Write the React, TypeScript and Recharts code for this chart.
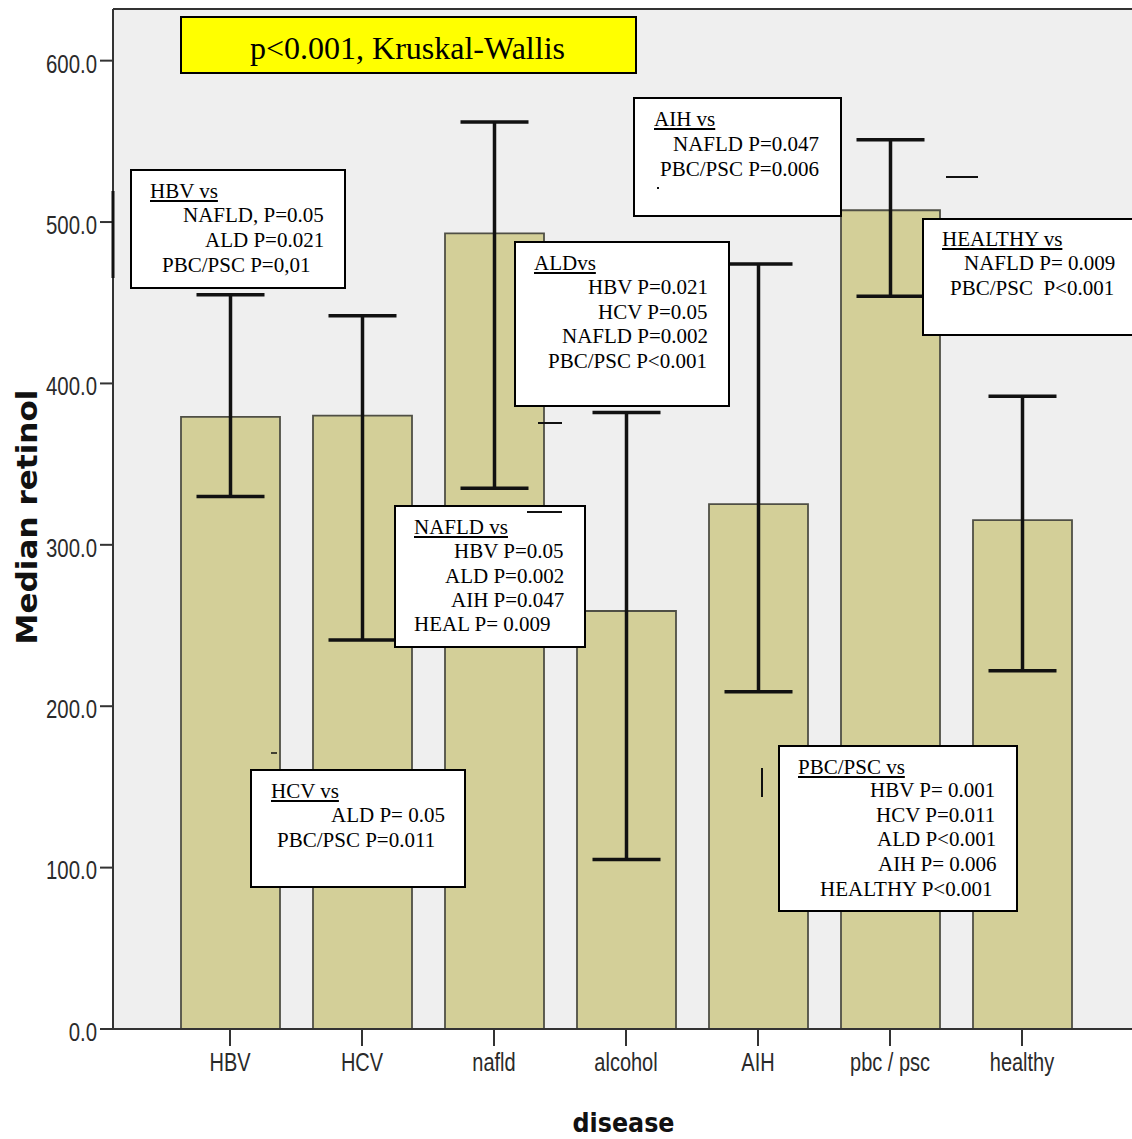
import React from 'react';
import { BarChart, Bar, XAxis, YAxis, ErrorBar, ReferenceLine, CartesianGrid, Label } from 'recharts';

// ---------- data ----------
const categories = ['HBV', 'HCV', 'nafld', 'alcohol', 'AIH', 'pbc / psc', 'healthy'];
const medianRetinol = [379.3, 380, 493, 259, 325.2, 507.3, 315.3];
const upperBound = [455, 442, 562, 382, 474, 551, 392];
const lowerBound = [330, 241, 335, 105, 209, 454, 222];
const yTicks = [0, 100, 200, 300, 400, 500, 600];
const yMax = 632;

const titleText = 'p<0.001, Kruskal-Wallis';

const data = categories.map((c, i) => ({
  disease: c,
  median: medianRetinol[i],
  err: [medianRetinol[i] - lowerBound[i], upperBound[i] - medianRetinol[i]],
}));

// ---------- annotation boxes (layout) ----------
type Line = { t: string; x: number; b: number; u?: boolean };
type Box = { l: number; tp: number; r: number; bt: number; lines: Line[] };

const boxes: Box[] = [
  {
    l: 130, tp: 169, r: 346, bt: 289,
    lines: [
      { t: 'HBV vs', x: 150, b: 199, u: true },
      { t: 'NAFLD, P=0.05', x: 183, b: 223 },
      { t: 'ALD P=0.021', x: 205, b: 248 },
      { t: 'PBC/PSC P=0,01', x: 162, b: 273 },
    ],
  },
  {
    l: 633, tp: 97, r: 842, bt: 217,
    lines: [
      { t: 'AIH vs', x: 654, b: 127, u: true },
      { t: 'NAFLD P=0.047', x: 673, b: 152 },
      { t: 'PBC/PSC P=0.006', x: 660, b: 177 },
    ],
  },
  {
    l: 922, tp: 218, r: 1140, bt: 336,
    lines: [
      { t: 'HEALTHY vs', x: 942, b: 247, u: true },
      { t: 'NAFLD P= 0.009', x: 964, b: 271 },
      { t: 'PBC/PSC  P<0.001', x: 950, b: 296 },
    ],
  },
  {
    l: 514, tp: 241, r: 730, bt: 407,
    lines: [
      { t: 'ALDvs', x: 534, b: 271, u: true },
      { t: 'HBV P=0.021', x: 588, b: 295 },
      { t: 'HCV P=0.05', x: 598, b: 320 },
      { t: 'NAFLD P=0.002', x: 562, b: 344 },
      { t: 'PBC/PSC P<0.001', x: 548, b: 369 },
    ],
  },
  {
    l: 394, tp: 505, r: 586, bt: 648,
    lines: [
      { t: 'NAFLD vs', x: 414, b: 535, u: true },
      { t: 'HBV P=0.05', x: 454, b: 559 },
      { t: 'ALD P=0.002', x: 445, b: 584 },
      { t: 'AIH P=0.047', x: 451, b: 608 },
      { t: 'HEAL P= 0.009', x: 414, b: 632 },
    ],
  },
  {
    l: 250, tp: 769, r: 466, bt: 888,
    lines: [
      { t: 'HCV vs', x: 271, b: 799, u: true },
      { t: 'ALD P= 0.05', x: 331, b: 823 },
      { t: 'PBC/PSC P=0.011', x: 277, b: 848 },
    ],
  },
  {
    l: 778, tp: 745, r: 1018, bt: 912,
    lines: [
      { t: 'PBC/PSC vs', x: 798, b: 775, u: true },
      { t: 'HBV P= 0.001', x: 870, b: 798 },
      { t: 'HCV P=0.011', x: 876, b: 823 },
      { t: 'ALD P<0.001', x: 877, b: 847 },
      { t: 'AIH P= 0.006', x: 878, b: 872 },
      { t: 'HEALTHY P<0.001', x: 820, b: 897 },
    ],
  },
];

// stray marks present in the original figure
const strays = [
  { x1: 946, y1: 177, x2: 978, y2: 177, w: 2 },
  { x1: 538, y1: 423, x2: 562, y2: 423, w: 2 },
  { x1: 527, y1: 512, x2: 562, y2: 512, w: 2 },
  { x1: 271, y1: 753, x2: 277, y2: 753, w: 1.5 },
  { x1: 762, y1: 768, x2: 762, y2: 797, w: 2 },
  { x1: 113, y1: 191, x2: 113, y2: 278, w: 3 },
];

const serif = "'Liberation Serif', 'Times New Roman', serif";
const sans = "'Liberation Sans', Arial, sans-serif";

const YTick = (props: any) => {
  const { x, y, payload } = props;
  return (
    <g transform={`translate(${x},${y + 3}) scale(0.815,1)`}>
      <text x={0} y={0} dy="0.355em" textAnchor="end" fontFamily={sans} fontSize={25} fill="#2a2a2a">
        {Number(payload.value).toFixed(1)}
      </text>
    </g>
  );
};

const XTick = (props: any) => {
  const { x, y, payload } = props;
  return (
    <g transform={`translate(${x},${y + 1}) scale(0.8,1)`}>
      <text x={0} y={0} dy="0.72em" textAnchor="middle" fontFamily={sans} fontSize={25} fill="#2a2a2a">
        {payload.value}
      </text>
    </g>
  );
};

export default function App() {
  return (
    <div style={{ position: 'absolute', left: 0, top: 0, width: 1132, height: 1139, overflow: 'hidden', background: '#fff' }}>
      <BarChart
        width={1132}
        height={1139}
        data={data}
        margin={{ top: 9, right: 0, bottom: 0, left: 0 }}
      >
        <CartesianGrid fill="#efefef" stroke="none" horizontal={false} vertical={false} />
        <XAxis
          dataKey="disease"
          height={110}
          padding={{ left: 51, right: 44 }}
          tickSize={17}
          tickMargin={6}
          tick={<XTick />}
          axisLine={{ stroke: '#333', strokeWidth: 2 }}
          tickLine={{ stroke: '#333', strokeWidth: 2 }}
        >
          <Label
            content={(p: any) => {
              const vb = p.viewBox || {};
              const cx = (vb.x || 0) + (vb.width || 0) / 2 + 1;
              return (
                <text x={cx} y={1132} textAnchor="middle" fontFamily="'DejaVu Sans', sans-serif" fontWeight="bold" fontSize={27} fill="#111" textLength={102} lengthAdjust="spacingAndGlyphs">
                  disease
                </text>
              );
            }}
          />
        </XAxis>
        <YAxis
          width={113}
          domain={[0, yMax]}
          ticks={yTicks}
          allowDataOverflow
          tickSize={13}
          tickMargin={3}
          tick={<YTick />}
          axisLine={{ stroke: '#333', strokeWidth: 2 }}
          tickLine={{ stroke: '#333', strokeWidth: 2 }}
        >
          <Label
            content={(p: any) => {
              const vb = p.viewBox || {};
              const cy = (vb.y || 0) + (vb.height || 0) / 2 - 2;
              const bx = 37;
              return (
                <text x={bx} y={cy} transform={`rotate(-90 ${bx} ${cy})`} textAnchor="middle" fontFamily="'DejaVu Sans', sans-serif" fontWeight="bold" fontSize={29} fill="#111" textLength={255} lengthAdjust="spacingAndGlyphs">
                  Median retinol
                </text>
              );
            }}
          />
        </YAxis>
        <ReferenceLine y={yMax} stroke="#333" strokeWidth={2} />
        <Bar dataKey="median" fill="#d3cf98" stroke="#4f4f45" strokeWidth={1.8} barSize={99} isAnimationActive={false}>
          <ErrorBar dataKey="err" width={34} strokeWidth={3.5} stroke="#111" direction="y" isAnimationActive={false} />
        </Bar>
      </BarChart>

      {/* stray marks */}
      <svg width={1132} height={1139} style={{ position: 'absolute', left: 0, top: 0, pointerEvents: 'none' }}>
        {strays.slice(0, 2).map((s, i) => (
          <line key={i} x1={s.x1} y1={s.y1} x2={s.x2} y2={s.y2} stroke="#111" strokeWidth={s.w} />
        ))}
        {strays.slice(3).map((s, i) => (
          <line key={'b' + i} x1={s.x1} y1={s.y1} x2={s.x2} y2={s.y2} stroke="#111" strokeWidth={s.w} />
        ))}
      </svg>

      {/* title box */}
      <div style={{ position: 'absolute', left: 180, top: 16, width: 457, height: 58, boxSizing: 'border-box', background: '#ffff00', border: '2px solid #000' }} />
      <span style={{ position: 'absolute', left: 250, top: 59 - 26.8, fontFamily: serif, fontSize: 32, lineHeight: '32px', whiteSpace: 'pre', color: '#000' }}>
        {titleText}
      </span>

      {boxes.map((bx, i) => (
        <React.Fragment key={i}>
          <div style={{ position: 'absolute', left: bx.l, top: bx.tp, width: bx.r - bx.l, height: bx.bt - bx.tp, boxSizing: 'border-box', background: '#fff', border: '2px solid #000' }} />
          {bx.lines.map((ln, j) => (
            <span key={j} style={{ position: 'absolute', left: ln.x, top: ln.b - 17.6, fontFamily: serif, fontSize: 21, lineHeight: '21px', whiteSpace: 'pre', color: '#000', textDecoration: ln.u ? 'underline' : 'none' }}>
              {ln.t}
            </span>
          ))}
        </React.Fragment>
      ))}

      {/* marks drawn over the boxes */}
      <svg width={1132} height={1139} style={{ position: 'absolute', left: 0, top: 0, pointerEvents: 'none' }}>
        <line x1={strays[2].x1} y1={strays[2].y1} x2={strays[2].x2} y2={strays[2].y2} stroke="#111" strokeWidth={strays[2].w} />
        <rect x={657} y={187} width={2} height={2} fill="#111" />
      </svg>
    </div>
  );
}
